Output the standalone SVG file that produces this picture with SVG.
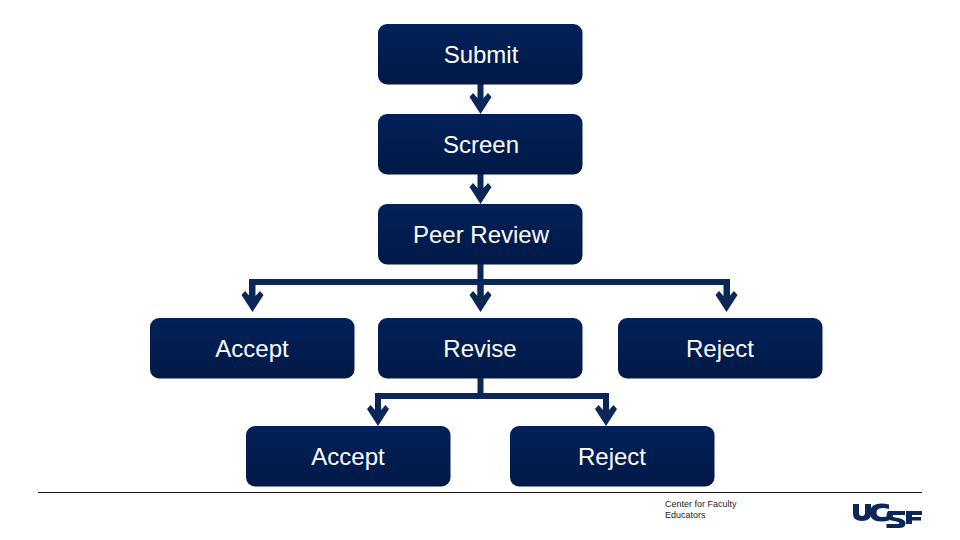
<svg xmlns="http://www.w3.org/2000/svg" width="960" height="540" viewBox="0 0 960 540">
<style>
.box{fill:url(#g)}
.t{font-family:"Liberation Sans",Arial,sans-serif;font-size:24px;fill:#fff;text-anchor:middle}
.c{fill:none;stroke:#0a2757;stroke-width:6}
.h{fill:#0a2757}
.f{font-family:"Liberation Sans",Arial,sans-serif;font-size:9px;fill:#222}
.l{fill:#0a2757}
</style>
<defs>
<linearGradient id="g" x1="0" y1="0" x2="0" y2="1"><stop offset="0" stop-color="#032158"/><stop offset=".5" stop-color="#021d50"/><stop offset="1" stop-color="#011947"/></linearGradient>
<path id="a" class="h" d="M-3 -30V-16L-7.500 -21L-11 -17L0 0L11 -17L7.500 -21L3 -16V-30Z"/>
</defs>
<rect width="960" height="540" fill="#fff"/>
<g id="connectors">
<use href="#a" x="480.500" y="114"/>
<use href="#a" x="480.500" y="204"/>
<path class="c" d="M480.500 264V282M252 282H727M480.500 282V300M252 279V300M727 279V300"/>
<use href="#a" x="252.500" y="312"/>
<use href="#a" x="480.500" y="312"/>
<use href="#a" x="726.500" y="312"/>
<path class="c" d="M480.500 378V396M378 396H606M378 393V410M606 393V410"/>
<use href="#a" x="378" y="426"/>
<use href="#a" x="606" y="426"/>
</g>
<g id="n-submit"><rect class="box" x="378" y="24" width="204.500" height="60.500" rx="9"/><text class="t" x="481" y="62.500">Submit</text></g>
<g id="n-screen"><rect class="box" x="378" y="114" width="204.500" height="60.500" rx="9"/><text class="t" x="481" y="152.500">Screen</text></g>
<g id="n-peer"><rect class="box" x="378" y="204" width="204.500" height="60.500" rx="9"/><text class="t" x="481" y="242.500">Peer Review</text></g>
<g id="n-accept1"><rect class="box" x="150" y="318" width="204.500" height="60.500" rx="9"/><text class="t" x="252" y="356.500">Accept</text></g>
<g id="n-revise"><rect class="box" x="378" y="318" width="204.500" height="60.500" rx="9"/><text class="t" x="480" y="356.500">Revise</text></g>
<g id="n-reject1"><rect class="box" x="618" y="318" width="204.500" height="60.500" rx="9"/><text class="t" x="720" y="356.500">Reject</text></g>
<g id="n-accept2"><rect class="box" x="246" y="426" width="204.500" height="60.500" rx="9"/><text class="t" x="348" y="464.500">Accept</text></g>
<g id="n-reject2"><rect class="box" x="510" y="426" width="204.500" height="60.500" rx="9"/><text class="t" x="612" y="464.500">Reject</text></g>
<g id="footer">
<line x1="38" y1="492.500" x2="922" y2="492.500" stroke="#1a1a1a" stroke-width="1"/>
<text class="f" x="665" y="507">Center for Faculty</text>
<text class="f" x="665" y="518">Educators</text>
<path class="l" d="M853 504H859V513Q859 516 862 516Q865 516 865 513V504H871V514Q871 521 862 521Q853 521 853 514Z"/>
<path class="l" d="M889 509Q885 508 882.500 508Q876.500 508 876.500 512.500Q876.500 517 882.500 517Q885 517 889 516V520.500Q885 521.500 881.500 521.500Q870 521.500 870 512.500Q870 503.500 881.500 503.500Q885 503.500 889 504.500Z"/>
<path class="l" d="M888 511H905V515H894.500Q892.500 515 892.500 516Q892.500 517 895.500 517.500L900.500 518.500Q905.500 520 905.500 523.500Q905.500 528 898.500 528H886.500V524H897.500Q899.500 524 899.500 523Q899.500 522 896.500 521.500L891.500 520.500Q886.500 519.500 886.500 515.500Q886.500 513 888 511Z"/>
<path class="l" d="M906 511H922V515H912V517H921V520.500H912V524H906Z"/>
</g>
</svg>
